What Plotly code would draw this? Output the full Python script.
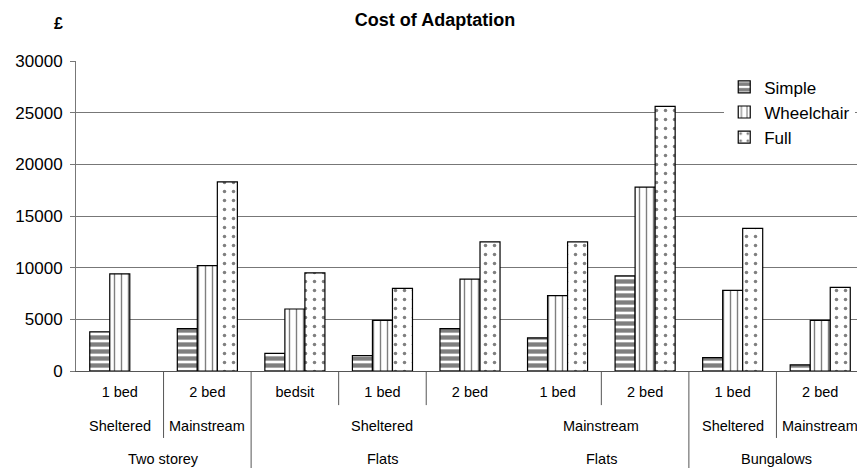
import plotly.graph_objects as go

# ---- data ----
bed_labels = ["1 bed", "2 bed", "bedsit", "1 bed", "2 bed", "1 bed", "2 bed", "1 bed", "2 bed"]
tenure_labels = ["Sheltered", "Mainstream", "Sheltered", "Mainstream", "Sheltered", "Mainstream"]
tenure_pos = [0, 1, 3, 5.5, 7, 8]
type_labels = ["Two storey", "Flats", "Flats", "Bungalows"]
type_pos = [0.5, 3, 5.5, 7.5]

simple = [3800, 4100, 1700, 1500, 4100, 3200, 9200, 1300, 600]
wheelchair = [9400, 10200, 6000, 4900, 8900, 7300, 17800, 7800, 4900]
full = [None, 18300, 9500, 8000, 12500, 12500, 25600, 13800, 8100]

series = [
    ("Simple", simple, dict(shape="-", size=7, solidity=0.62)),
    ("Wheelchair", wheelchair, dict(shape="|", size=7, solidity=0.2)),
    ("Full", full, dict(shape=".", size=9, solidity=0.12)),
]

x = list(range(len(bed_labels)))
FONT = "Liberation Sans, Arial, sans-serif"

fig = go.Figure()
for name, vals, pat in series:
    fig.add_trace(go.Bar(
        x=x, y=vals, name=name,
        marker=dict(color="white",
                    line=dict(color="black", width=1.2),
                    pattern=dict(fgcolor="black", bgcolor="white", **pat)),
    ))

# divider lines between category labels: (x position, bottom in paper coords)
dividers = [(0.5, -0.216), (1.5, -0.313), (2.5, -0.110), (3.5, -0.110),
            (5.5, -0.110), (6.5, -0.313), (7.5, -0.216)]
shapes = [dict(type="line", xref="x", yref="paper", x0=d, x1=d, y0=0, y1=b,
               line=dict(color="#555", width=1)) for d, b in dividers]

annotations = []
for lab, p in zip(tenure_labels, tenure_pos):
    annotations.append(dict(text=lab, x=p, xref="x", y=-0.177, yref="paper",
                            showarrow=False, yanchor="middle",
                            font=dict(size=14.5, color="black", family=FONT)))
for lab, p in zip(type_labels, type_pos):
    annotations.append(dict(text=lab, x=p, xref="x", y=-0.284, yref="paper",
                            showarrow=False, yanchor="middle",
                            font=dict(size=14.5, color="black", family=FONT)))
annotations.append(dict(text="<b>£</b>", x=(52 - 76) / 781, xref="paper", y=1 + 37 / 310,
                        yref="paper", showarrow=False, yanchor="middle",
                        font=dict(size=16, color="black", family=FONT)))

fig.update_layout(
    width=857, height=468,
    margin=dict(l=76, r=0, t=61, b=97),
    paper_bgcolor="white", plot_bgcolor="white",
    font=dict(family=FONT, color="black"),
    title=dict(text="<b>Cost of Adaptation</b>", x=435 / 857, xref="container",
               xanchor="center", y=1 - 20 / 468, yref="container", yanchor="middle",
               font=dict(size=18, color="black", family=FONT)),
    barmode="group", bargap=0.314, bargroupgap=0,
    showlegend=True,
    legend=dict(x=0.83, xanchor="left", y=0.973, yanchor="top",
                bgcolor="white", borderwidth=0,
                font=dict(size=17, color="black", family=FONT),
                tracegroupgap=0),
    shapes=shapes, annotations=annotations,
)
fig.update_xaxes(range=[-0.5, 8.42], tickmode="array", tickvals=x, ticktext=bed_labels,
                 ticks="", showgrid=False, zeroline=False,
                 showline=True, linecolor="#555", linewidth=1,
                 tickfont=dict(size=14.5, color="black", family=FONT),
                 ticklabelstandoff=8)
fig.update_yaxes(range=[0, 30000], dtick=5000, tickformat="d",
                 showgrid=True, gridcolor="#777", gridwidth=1,
                 zeroline=False, showline=True, linecolor="#777", linewidth=1,
                 ticks="outside", ticklen=5, tickcolor="#777",
                 tickfont=dict(size=17, color="black", family=FONT),
                 ticklabelstandoff=4)

fig.write_html("out.html", config={"displayModeBar": False},
               post_script="document.body.style.margin='0';document.body.style.padding='0';")
